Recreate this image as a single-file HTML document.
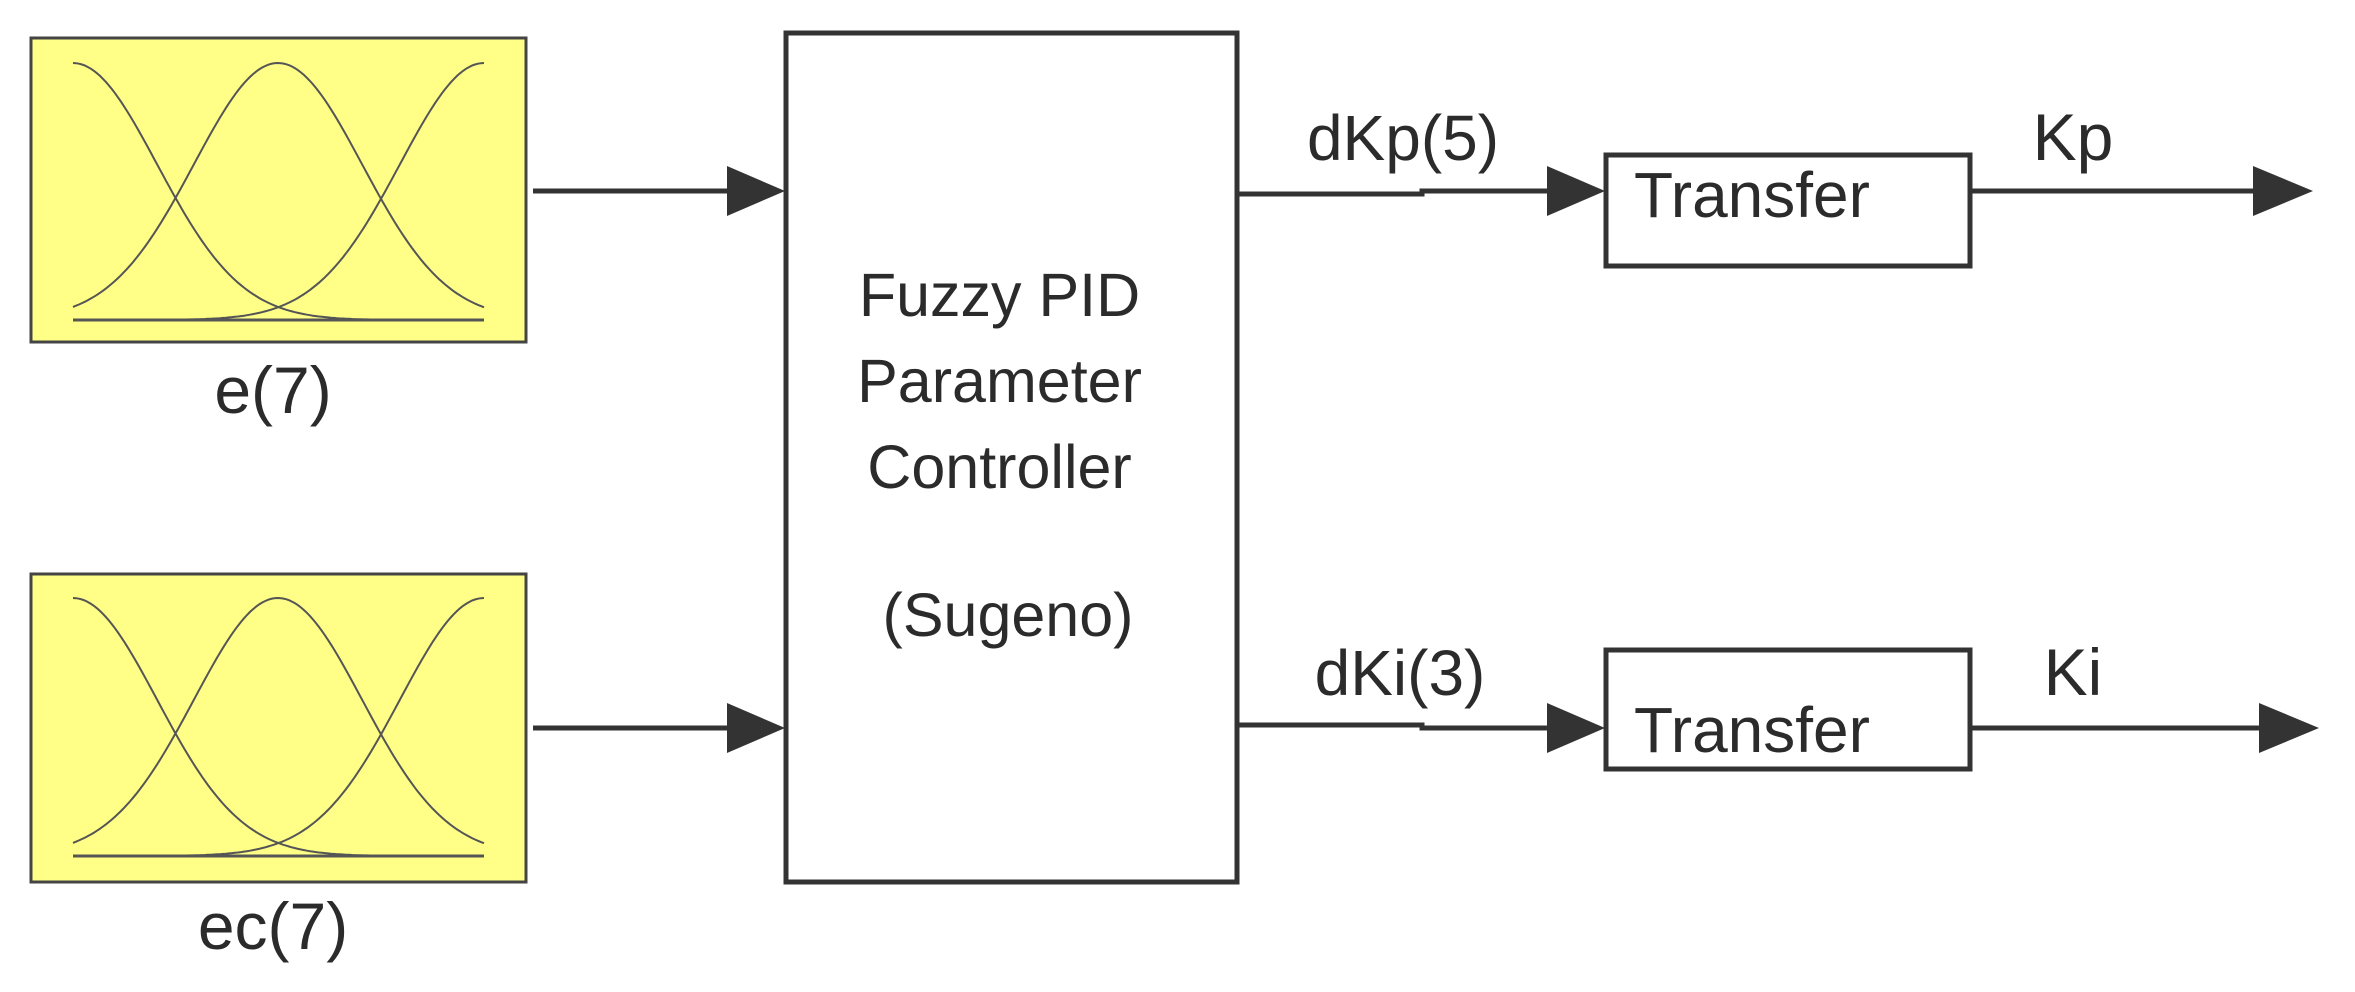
<!DOCTYPE html>
<html><head><meta charset="utf-8"><style>
html,body{margin:0;padding:0;background:#fff;overflow:hidden;}
svg{display:block;}
text{font-family:"Liberation Sans",sans-serif;fill:#2b2b2b;}
</style></head><body>
<svg id="s" width="2355" height="992" viewBox="0 0 2355 992" xmlns="http://www.w3.org/2000/svg">
<rect x="31" y="38" width="495" height="304" fill="#ffff88" stroke="#444" stroke-width="3"/>
<g id="mf1"></g>
<rect x="31" y="574" width="495" height="308" fill="#ffff88" stroke="#444" stroke-width="3"/>
<g id="mf2"></g>
<text x="273" y="413" font-size="66" text-anchor="middle">e(7)</text>
<text x="273" y="949" font-size="66" text-anchor="middle">ec(7)</text>

<rect x="786" y="33" width="451" height="849" fill="#fff" stroke="#333" stroke-width="5"/>
<text font-size="61" text-anchor="middle">
<tspan x="1008" y="316">Fuzzy PID</tspan>
<tspan x="1008" y="402">Parameter</tspan>
<tspan x="1008" y="488">Controller</tspan>
<tspan x="1008" y="636">(Sugeno)</tspan>
</text>

<g stroke="#333" stroke-width="5" fill="none">
<line x1="533" y1="191" x2="730" y2="191"/>
<line x1="533" y1="728" x2="730" y2="728"/>
<polyline points="1238,194 1422,194 1422,191 1550,191"/>
<polyline points="1238,725 1422,725 1422,728 1550,728"/>
<line x1="1970" y1="191" x2="2260" y2="191"/>
<line x1="1970" y1="728" x2="2265" y2="728"/>
</g>
<g fill="#333">
<polygon points="727,166 785,191 727,216"/>
<polygon points="727,703 785,728 727,753"/>
<polygon points="1547,166 1605,191 1547,216"/>
<polygon points="1547,703 1605,728 1547,753"/>
<polygon points="2253,166 2313,191 2253,216"/>
<polygon points="2259,703 2319,728 2259,753"/>
</g>
<rect x="1606" y="155" width="364" height="111" fill="#fff" stroke="#333" stroke-width="5"/>
<rect x="1606" y="650" width="364" height="119" fill="#fff" stroke="#333" stroke-width="5"/>
<text x="1752" y="217" font-size="64" text-anchor="middle">Transfer</text>
<text x="1752" y="752" font-size="64" text-anchor="middle">Transfer</text>
<text x="1403" y="160" font-size="64" text-anchor="middle">dKp(5)</text>
<text x="1400" y="695" font-size="64" text-anchor="middle">dKi(3)</text>
<text x="2073" y="160" font-size="66" text-anchor="middle">Kp</text>
<text x="2073" y="695" font-size="66" text-anchor="middle">Ki</text>
</svg>
<script>
(function(){
  var ns="http://www.w3.org/2000/svg";
  function draw(id,top,bot){
    var g=document.getElementById(id);
    var cs=[73,278,484], s=84;
    cs.forEach(function(c){
      var d="";
      for(var x=73;x<=484;x+=3){
        var v=Math.exp(-((x-c)*(x-c))/(2*s*s));
        var y=bot-(bot-top)*v;
        d+=(d?"L":"M")+x+","+y.toFixed(1);
      }
      var p=document.createElementNS(ns,"path");
      p.setAttribute("d",d);p.setAttribute("fill","none");
      p.setAttribute("stroke","#555");p.setAttribute("stroke-width","2");
      g.appendChild(p);
    });
    var l=document.createElementNS(ns,"line");
    l.setAttribute("x1",73);l.setAttribute("x2",484);
    l.setAttribute("y1",bot);l.setAttribute("y2",bot);
    l.setAttribute("stroke","#555");l.setAttribute("stroke-width","3");
    g.appendChild(l);
  }
  draw("mf1",63,320);
  draw("mf2",598,856);
})();
</script>
</body></html>
